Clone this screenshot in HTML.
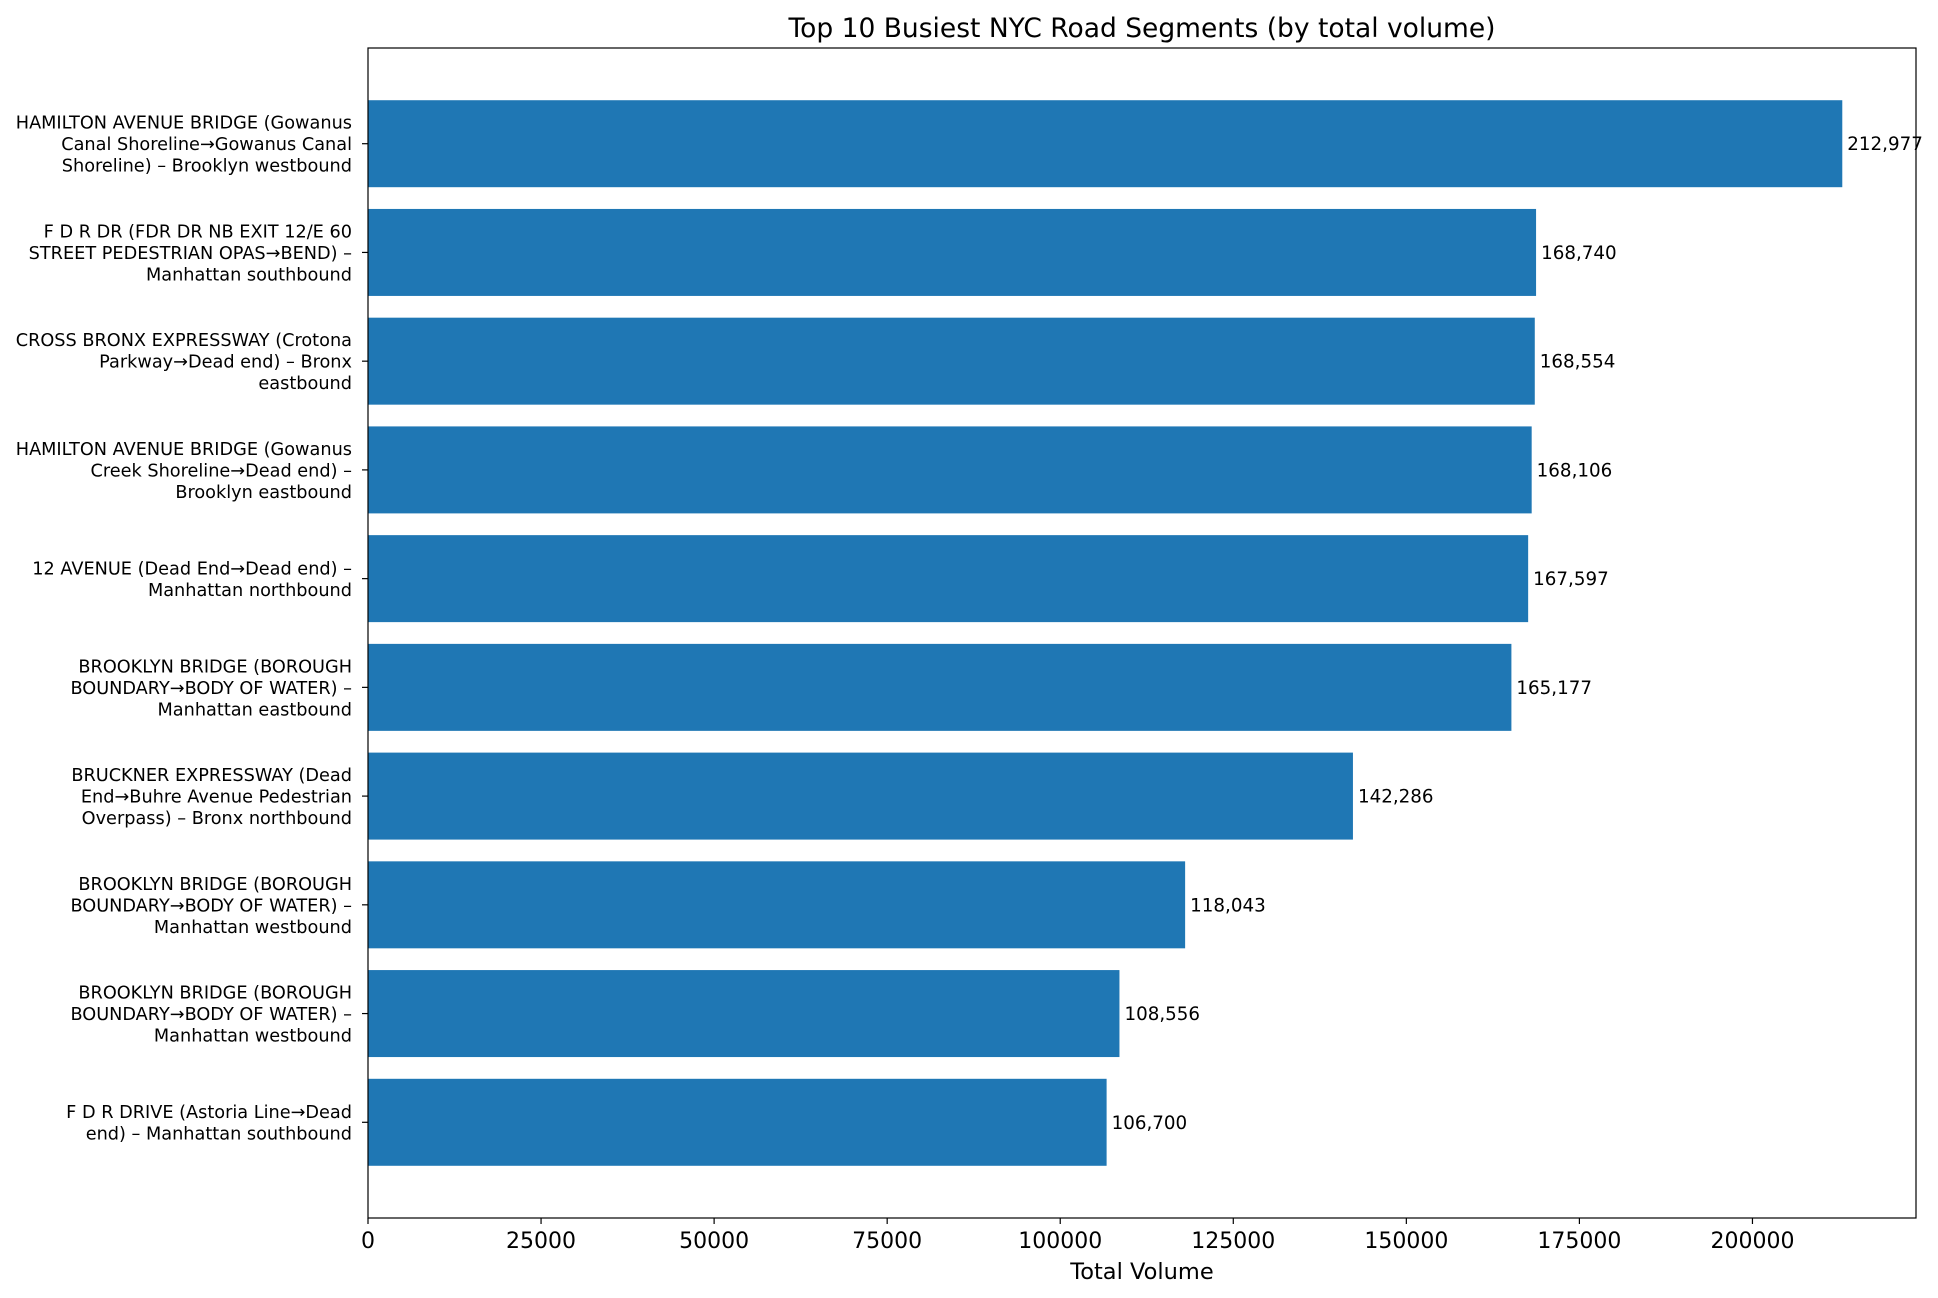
<!DOCTYPE html>
<html><head><meta charset="utf-8">
<style>
html,body{margin:0;padding:0;background:#fff;}
svg{display:block;font-family:"DejaVu Sans","Liberation Sans",sans-serif;}
</style></head>
<body>
<svg id="chart" width="1938" height="1298" viewBox="0 0 1938 1298">
<rect x="0" y="0" width="1938" height="1298" fill="#fff"/>
<text x="1142" y="37" font-size="26.5" text-anchor="middle" fill="#000">Top 10 Busiest NYC Road Segments (by total volume)</text>
<g id="bars"></g>
<g id="ylabels"></g>
<g id="xticks"></g>
<rect x="368" y="48" width="1548" height="1170" fill="none" stroke="#000" stroke-width="1.2"/>
<text x="1142" y="1279" font-size="22.5" text-anchor="middle" fill="#000">Total Volume</text>
</svg>
<script>
const categories = [
 ["HAMILTON AVENUE BRIDGE (Gowanus","Canal Shoreline→Gowanus Canal","Shoreline) – Brooklyn westbound"],
 ["F D R DR (FDR DR NB EXIT 12/E 60","STREET PEDESTRIAN OPAS→BEND) –","Manhattan southbound"],
 ["CROSS BRONX EXPRESSWAY (Crotona","Parkway→Dead end) – Bronx","eastbound"],
 ["HAMILTON AVENUE BRIDGE (Gowanus","Creek Shoreline→Dead end) –","Brooklyn eastbound"],
 ["12 AVENUE (Dead End→Dead end) –","Manhattan northbound"],
 ["BROOKLYN BRIDGE (BOROUGH","BOUNDARY→BODY OF WATER) –","Manhattan eastbound"],
 ["BRUCKNER EXPRESSWAY (Dead","End→Buhre Avenue Pedestrian","Overpass) – Bronx northbound"],
 ["BROOKLYN BRIDGE (BOROUGH","BOUNDARY→BODY OF WATER) –","Manhattan westbound"],
 ["BROOKLYN BRIDGE (BOROUGH","BOUNDARY→BODY OF WATER) –","Manhattan westbound"],
 ["F D R DRIVE (Astoria Line→Dead","end) – Manhattan southbound"]
];
const values = [212977,168740,168554,168106,167597,165177,142286,118043,108556,106700];
const xTicks = [0,25000,50000,75000,100000,125000,150000,175000,200000];

const NS="http://www.w3.org/2000/svg";
const L=368,R=1916,T=48,B=1218;
const xmax=Math.max(...values)*1.05;
const x=v=>L+(R-L)*v/xmax;
const n=values.length;
const ylo=-0.4-0.049*(n-1+0.8), yhi=(n-1)+0.4+0.049*(n-1+0.8);
const y=i=>T+(B-T)*(i-ylo)/(yhi-ylo);
const bw=(B-T)*0.8/(yhi-ylo);
function mk(tag,attrs,parent){const e=document.createElementNS(NS,tag);for(const k in attrs)e.setAttribute(k,attrs[k]);parent.appendChild(e);return e;}
const gb=document.getElementById('bars'),gy=document.getElementById('ylabels'),gx=document.getElementById('xticks');
values.forEach((v,i)=>{
 const cy=y(i);
 const r=mk('rect',{x:L,y:cy-bw/2,width:x(v)-L,height:bw,fill:'#1f77b4'},gb);
 
 
 const t=mk('text',{x:x(v)+5,y:cy+6.5,'font-size':18.3,fill:'#000'},gb);
 t.textContent=v.toLocaleString('en-US');
 
 
 const tk=mk('line',{x1:L-6,x2:L,y1:cy,y2:cy,stroke:'#000','stroke-width':1.2},gy);
 
 
 const lines=categories[i];
 const lh=21.5;
 const lt=mk('text',{'font-size':17.7,'text-anchor':'end',fill:'#000'},gy);
 
 
 lines.forEach((s,j)=>{
  const ts=mk('tspan',{x:352,y:cy+6.5+(j-(lines.length-1)/2)*lh},lt);
  ts.textContent=s;
 });
});
xTicks.forEach((v,i)=>{
 const px=x(v);
 const tk=mk('line',{x1:px,x2:px,y1:B,y2:B+6,stroke:'#000','stroke-width':1.2},gx);
 
 
 const t=mk('text',{x:px,y:B+30,'font-size':22,'text-anchor':'middle',fill:'#000'},gx);
 t.textContent=String(v);
 
 
});
</script>
</body></html>
